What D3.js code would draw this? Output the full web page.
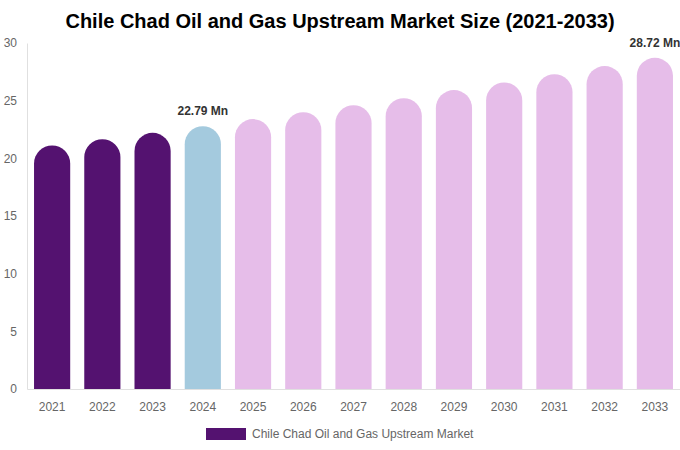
<!DOCTYPE html>
<html>
<head>
<meta charset="utf-8">
<script src="https://cdn.jsdelivr.net/npm/d3@7"></script>
<style>
  body { margin: 0; background: #fff; }
  svg { font-family: "Liberation Sans", Arial, sans-serif; }
</style>
</head>
<body>
<div id="chart"></div>
<script>
// Datos del gráfico
var years = ["2021", "2022", "2023", "2024", "2025", "2026", "2027", "2028", "2029", "2030", "2031", "2032", "2033"];
var values = [21.12, 21.66, 22.21, 22.79, 23.40, 24.00, 24.61, 25.22, 25.92, 26.58, 27.30, 28.00, 28.72];
var yTicks = [0, 5, 10, 15, 20, 25, 30];
var labelledYears = ["2024", "2033"];

var width = 680, height = 450;
var margin = { top: 43, right: 0, bottom: 61, left: 27 };

var svg = d3.select("#chart").append("svg")
    .attr("width", width)
    .attr("height", height);

// Título
svg.append("text")
    .attr("x", 340)
    .attr("y", 28)
    .attr("text-anchor", "middle")
    .attr("font-size", "20px")
    .attr("font-weight", "bold")
    .attr("fill", "#000")
    .text("Chile Chad Oil and Gas Upstream Market Size (2021-2033)");

var x = d3.scaleBand()
    .domain(years)
    .range([margin.left, width - margin.right])
    .paddingInner(0.28)
    .paddingOuter(0.14);

var y = d3.scaleLinear()
    .domain([0, 30])
    .range([height - margin.bottom, margin.top]);

// Colores por periodo
function barColor(year) {
    if (+year < 2024) return "#541270";
    if (+year === 2024) return "#a4cade";
    return "#e6bde9";
}

// Eje Y
var yAxis = svg.append("g")
    .attr("transform", "translate(" + margin.left + ",0)")
    .call(d3.axisLeft(y).tickValues(yTicks).tickSize(0).tickPadding(10));
yAxis.select(".domain").attr("stroke", "#e0e0e0");
yAxis.selectAll("text").attr("fill", "#666").attr("font-size", "12px")
    .attr("font-family", "Liberation Sans, Arial, sans-serif");

// Eje X
var xAxis = svg.append("g")
    .attr("transform", "translate(0," + y(0) + ")")
    .call(d3.axisBottom(x).tickSize(0).tickPadding(13));
xAxis.select(".domain").attr("stroke", "#e0e0e0");
xAxis.selectAll("text").attr("fill", "#666").attr("font-size", "12px")
    .attr("font-family", "Liberation Sans, Arial, sans-serif");

// Barras con tope redondeado
function barPath(d, i) {
    var x0 = x(years[i]), w = x.bandwidth(), r = w / 2;
    var top = y(d), bottom = y(0);
    return "M" + x0 + "," + bottom +
        "L" + x0 + "," + (top + r) +
        "A" + r + "," + r + " 0 0 1 " + (x0 + w) + "," + (top + r) +
        "L" + (x0 + w) + "," + bottom + "Z";
}

svg.selectAll("path.bar")
    .data(values)
    .enter().append("path")
    .attr("class", "bar")
    .attr("d", barPath)
    .attr("fill", (d, i) => barColor(years[i]));

// Etiquetas de valor
svg.selectAll("text.value")
    .data(values.filter((d, i) => labelledYears.indexOf(years[i]) >= 0))
    .enter().append("text")
    .attr("class", "value")
    .attr("x", (d) => x(years[values.indexOf(d)]) + x.bandwidth() / 2)
    .attr("y", (d) => y(d) - 11)
    .attr("text-anchor", "middle")
    .attr("font-size", "12px")
    .attr("font-weight", "bold")
    .attr("fill", "#333")
    .text((d) => d.toFixed(2) + " Mn");

// Leyenda
var legend = svg.append("g").attr("transform", "translate(206,428)");
legend.append("rect")
    .attr("width", 40)
    .attr("height", 12)
    .attr("fill", "#541270");
legend.append("text")
    .attr("x", 46)
    .attr("y", 10)
    .attr("font-size", "12px")
    .attr("fill", "#666")
    .text("Chile Chad Oil and Gas Upstream Market");
</script>
</body>
</html>
